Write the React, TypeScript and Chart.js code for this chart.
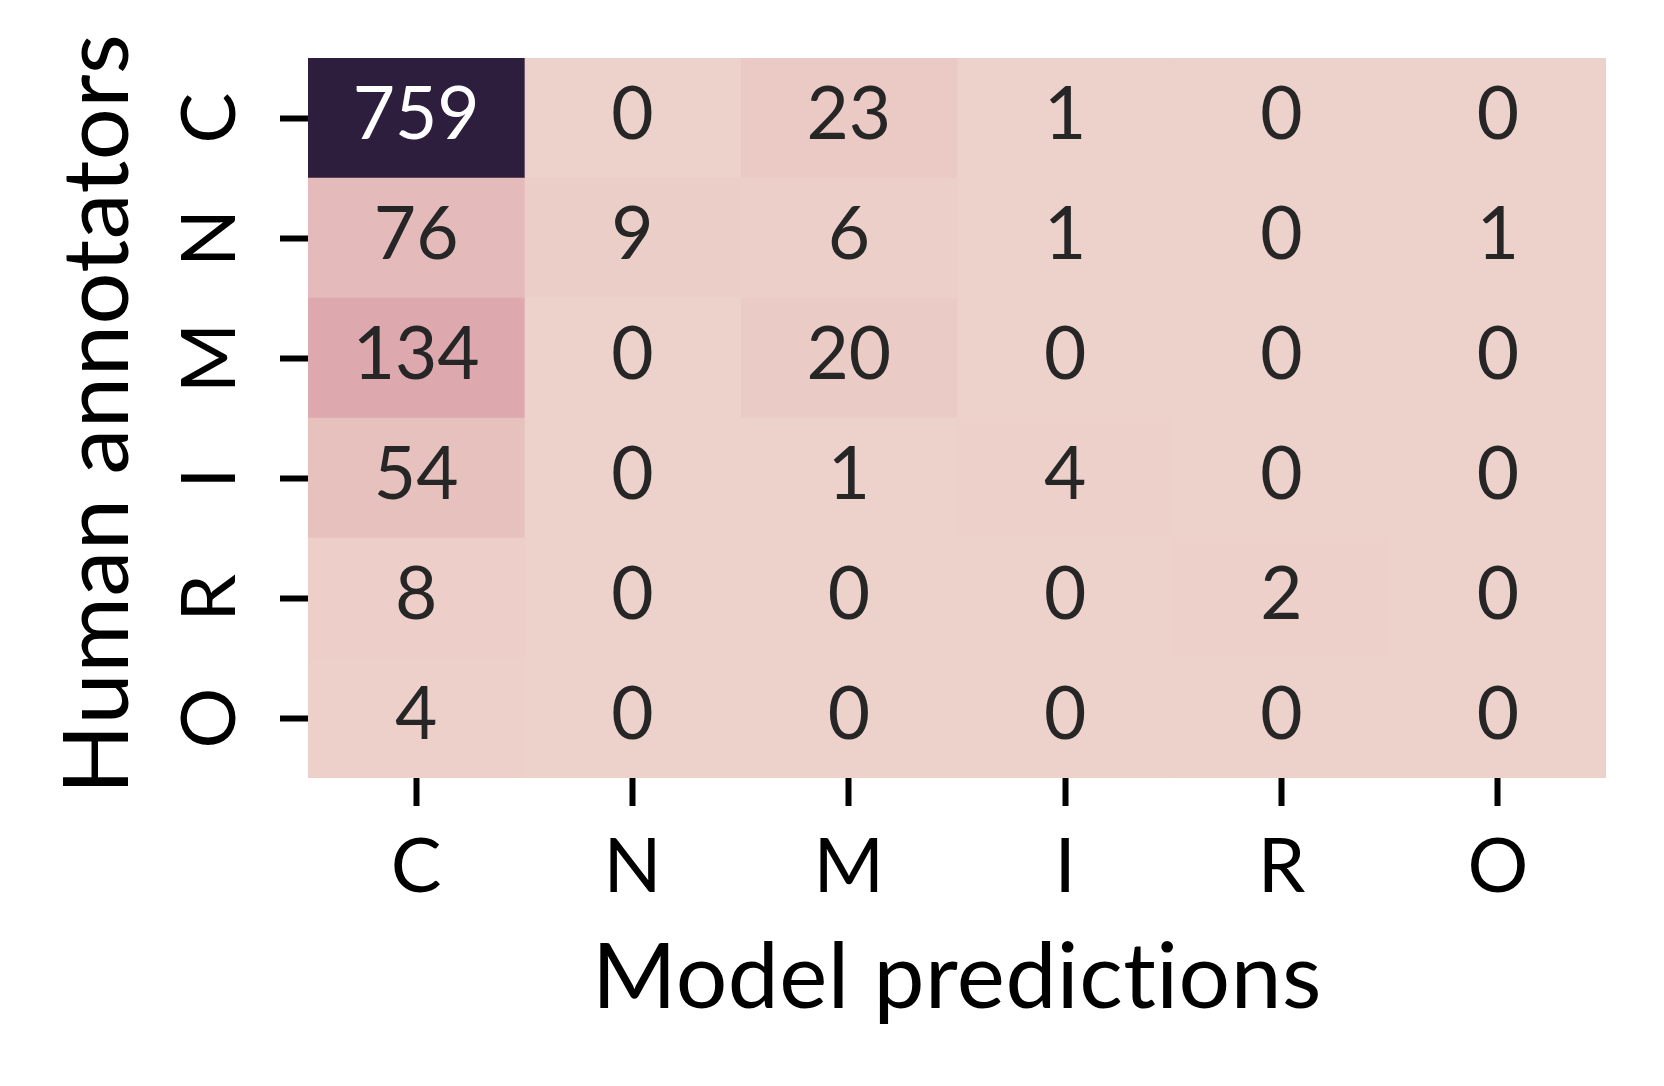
import React, { useEffect, useRef } from 'react';
import { Chart, registerables } from 'chart.js';

Chart.register(...registerables);

// ---- data ----
const predictionLabels = ['C', 'N', 'M', 'I', 'R', 'O'];
const annotatorLabels = ['C', 'N', 'M', 'I', 'R', 'O'];
const rowC = [759, 0, 23, 1, 0, 0];
const rowN = [76, 9, 6, 1, 0, 1];
const rowM = [134, 0, 20, 0, 0, 0];
const rowI = [54, 0, 1, 4, 0, 0];
const rowR = [8, 0, 0, 0, 2, 0];
const rowO = [4, 0, 0, 0, 0, 0];
const matrix = [rowC, rowN, rowM, rowI, rowR, rowO];
const xTitle = 'Model predictions';
const yTitle = 'Human annotators';

const FONT = 'Lato';

// seaborn default cubehelix_palette(as_cmap=True)
function cubehelixRGB(t: number): [number, number, number] {
  const light = 0.85, dark = 0.15, hue = 0.8, rot = 0.4, start = 0, gamma = 1;
  const x = light + (dark - light) * t;
  const xg = Math.pow(x, gamma);
  const a = (hue * xg * (1 - xg)) / 2;
  const phi = 2 * Math.PI * (start / 3 + rot * x);
  const c = Math.cos(phi), s = Math.sin(phi);
  const clip = (v: number) => Math.max(0, Math.min(1, v));
  const r = clip(xg + a * (-0.14861 * c + 1.78277 * s));
  const g = clip(xg + a * (-0.29227 * c - 0.90649 * s));
  const b = clip(xg + a * (1.97294 * c));
  return [r, g, b];
}
const vmax = Math.max(...matrix.flat());
function cellColor(v: number) {
  const [r, g, b] = cubehelixRGB(v / vmax);
  return `rgb(${Math.round(r * 255)},${Math.round(g * 255)},${Math.round(b * 255)})`;
}
function textColor(v: number) {
  const rgb = cubehelixRGB(v / vmax).map((c) => (c <= 0.03928 ? c / 12.92 : Math.pow((c + 0.055) / 1.055, 2.4)));
  const lum = 0.2126 * rgb[0] + 0.7152 * rgb[1] + 0.0722 * rgb[2];
  return lum > 0.408 ? '#262626' : '#ffffff';
}

const textPlugin = {
  id: 'heatText',
  afterDraw(chart: any) {
    const { ctx, chartArea, scales } = chart;
    const xs = scales.x, ys = scales.y;
    ctx.save();
    // cell annotations
    ctx.font = `73px ${FONT}`;
    ctx.textAlign = 'center';
    ctx.textBaseline = 'alphabetic';
    matrix.forEach((row, j) => {
      row.forEach((v, i) => {
        const cx = xs.getPixelForValue(i + 0.5);
        const cy = ys.getPixelForValue(j);
        ctx.fillStyle = textColor(v);
        ctx.fillText(String(v), cx, cy + 21);
      });
    });
    // x tick labels
    ctx.fillStyle = '#000';
    ctx.font = `76px ${FONT}`;
    predictionLabels.forEach((l, i) => {
      ctx.fillText(l, xs.getPixelForValue(i + 0.5), chartArea.bottom + 114);
    });
    // y tick labels (rotated)
    annotatorLabels.forEach((l, j) => {
      ctx.save();
      ctx.translate(chartArea.left - 73, ys.getPixelForValue(j));
      ctx.rotate(-Math.PI / 2);
      ctx.fillText(l, 0, 0);
      ctx.restore();
    });
    // axis titles
    try { (ctx as any).letterSpacing = '0.5px'; } catch (e) {}
    ctx.font = `91px ${FONT}`;
    ctx.fillText(xTitle, (chartArea.left + chartArea.right) / 2, 1008);
    ctx.font = `92px ${FONT}`;
    ctx.save();
    ctx.translate(128, 414);
    ctx.rotate(-Math.PI / 2);
    ctx.fillText(yTitle, 0, 0);
    ctx.restore();
    ctx.restore();
  },
};

export default function App() {
  const ref = useRef<HTMLCanvasElement>(null);
  useEffect(() => {
    document.body.style.margin = '0';
    const datasets = predictionLabels.map((_, i) => ({
      label: predictionLabels[i],
      data: matrix.map(() => [i, i + 1]),
      backgroundColor: matrix.map((row) => cellColor(row[i])),
      borderWidth: 0,
      barPercentage: 1,
      categoryPercentage: 1,
      grouped: false,
    }));
    const chart = new Chart(ref.current!, {
      type: 'bar',
      data: { labels: annotatorLabels, datasets: datasets as any },
      plugins: [textPlugin],
      options: {
        indexAxis: 'y',
        responsive: false,
        animation: false,
        devicePixelRatio: 1,
        layout: { padding: { top: 58, right: 58, left: 0, bottom: 0 } },
        plugins: { legend: { display: false }, tooltip: { enabled: false } },
        scales: {
          x: {
            type: 'linear',
            min: 0,
            max: 6,
            afterBuildTicks: (s: any) => {
              s.ticks = predictionLabels.map((_, i) => ({ value: i + 0.5 }));
            },
            afterFit: (s: any) => {
              s.height = 308;
            },
            ticks: { display: false },
            border: { display: false },
            grid: { drawOnChartArea: false, drawTicks: true, tickLength: 28, tickWidth: 6, tickColor: '#000' },
          },
          y: {
            type: 'category',
            offset: true,
            afterFit: (s: any) => {
              s.width = 308;
            },
            ticks: { display: false },
            border: { display: false },
            grid: { offset: false, drawOnChartArea: false, drawTicks: true, tickLength: 28, tickWidth: 6, tickColor: '#000' },
          },
        },
      },
    });
    return () => chart.destroy();
  }, []);
  return (
    <div style={{ position: 'absolute', left: 0, top: 0, width: 1664, height: 1086, background: '#fff' }}>
      <canvas ref={ref} width={1664} height={1086} style={{ width: 1664, height: 1086 }} />
    </div>
  );
}
